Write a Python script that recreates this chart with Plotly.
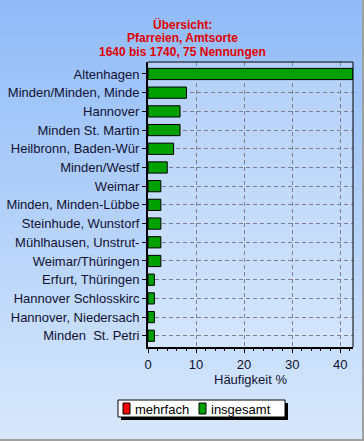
import plotly.graph_objects as go

categories = ["Altenhagen", "Minden/Minden, Minde", "Hannover", "Minden St. Martin",
              "Heilbronn, Baden-Wür", "Minden/Westf", "Weimar", "Minden, Minden-Lübbe",
              "Steinhude, Wunstorf", "Mühlhausen, Unstrut-", "Weimar/Thüringen",
              "Erfurt, Thüringen", "Hannover Schlosskirc", "Hannover, Niedersach",
              "Minden  St. Petri"]
insgesamt = [42.67, 8.0, 6.67, 6.67, 5.33, 4.0, 2.67, 2.67, 2.67, 2.67, 2.67,
             1.33, 1.33, 1.33, 1.33]
mehrfach = [0] * len(categories)
series_names = ["mehrfach", "insgesamt"]
series_colors = ["#ff0000", "#00a000"]
title_lines = ["Übersicht:", "Pfarreien, Amtsorte", "1640 bis 1740, 75 Nennungen"]
x_ticks = [0, 10, 20, 30, 40]

W, H = 364, 441
L, R, T, B = 148, 11, 62, 94
pw, ph = W - L - R, H - T - B

def px_x(x):
    return (x - L) / pw

def px_y(y):
    return (H - y - B) / ph

def lerp(c1, c2, t):
    return "rgb(%d,%d,%d)" % tuple(round(a + (b - a) * t) for a, b in zip(c1, c2))

shapes = []
N = 60
outer_top, outer_bot = (144, 187, 248), (216, 232, 251)
for i in range(N):
    t = (i + 0.5) / N
    shapes.append(dict(type="rect", xref="paper", yref="paper", layer="below",
                       x0=px_x(0), x1=px_x(W),
                       y0=px_y((i + 1) * H / N), y1=px_y(i * H / N) + 0.002,
                       line=dict(width=0), fillcolor=lerp(outer_top, outer_bot, t)))
inner_top, inner_bot = (180, 208, 248), (212, 229, 251)
M = 40
for i in range(M):
    t = (i + 0.5) / M
    shapes.append(dict(type="rect", xref="paper", yref="paper", layer="below",
                       x0=0, x1=1, y0=1 - (i + 1) / M, y1=1 - i / M + 0.002,
                       line=dict(width=0), fillcolor=lerp(inner_top, inner_bot, t)))
# frame top/right thin
shapes.append(dict(type="line", xref="paper", yref="paper", x0=0, x1=1, y0=1, y1=1,
                   line=dict(color="black", width=1)))
shapes.append(dict(type="line", xref="paper", yref="paper", x0=1, x1=1, y0=0, y1=1,
                   line=dict(color="black", width=1)))
# window border
shapes.append(dict(type="line", xref="paper", yref="paper", x0=px_x(W - 1), x1=px_x(W - 1),
                   y0=px_y(H), y1=px_y(0), line=dict(color="#a0a0a0", width=2)))
shapes.append(dict(type="line", xref="paper", yref="paper", x0=px_x(0), x1=px_x(W),
                   y0=px_y(H - 1), y1=px_y(H - 1), line=dict(color="#a0a0a0", width=2)))

font = "Liberation Sans, Arial, sans-serif"
annotations = []
# title lines
for k, line in enumerate(title_lines):
    annotations.append(dict(text="<b>%s</b>" % line, xref="paper", yref="paper",
                            x=px_x(182), y=px_y(24.5 + 13.5 * k), xanchor="center",
                            yanchor="middle", showarrow=False, borderpad=0,
                            font=dict(family=font, size=12, color="#e00000")))

# manual legend box with shadow
lx0, lx1, ly0, ly1 = 118, 285, 400, 417
shapes.append(dict(type="rect", xref="paper", yref="paper", layer="above",
                   x0=px_x(lx0 + 3), x1=px_x(lx1 + 3), y0=px_y(ly1 + 3), y1=px_y(ly0 + 3),
                   line=dict(width=0), fillcolor="black"))
shapes.append(dict(type="rect", xref="paper", yref="paper", layer="above",
                   x0=px_x(lx0), x1=px_x(lx1), y0=px_y(ly1), y1=px_y(ly0),
                   line=dict(color="black", width=1), fillcolor="white"))
sw_x = [123, 199]
for name, col, sx in zip(series_names, series_colors, sw_x):
    shapes.append(dict(type="rect", xref="paper", yref="paper", layer="above",
                       x0=px_x(sx), x1=px_x(sx + 7), y0=px_y(ly1 - 3), y1=px_y(ly0 + 3),
                       line=dict(color="black", width=1), fillcolor=col))
    annotations.append(dict(text=name, xref="paper", yref="paper", x=px_x(sx + 10),
                            y=px_y((ly0 + ly1) / 2 + 0.5), xanchor="left", yanchor="middle",
                            showarrow=False, font=dict(size=13, color="black")))

fig = go.Figure()
for name, col, vals in zip(series_names, series_colors, [mehrfach, insgesamt]):
    fig.add_trace(go.Bar(y=categories, x=vals, orientation="h", name=name,
                         marker=dict(color=col, line=dict(color="black", width=1)),
                         width=0.6, showlegend=False))

fig.update_layout(
    width=W, height=H, margin=dict(l=L, r=R, t=T, b=B, pad=0, autoexpand=False),
    barmode="overlay",
    paper_bgcolor="rgb(200,220,250)", plot_bgcolor="rgba(0,0,0,0)",
    font=dict(family=font, size=13, color="#111133"),
    xaxis=dict(range=[0, 42.67], tickvals=x_ticks, ticks="outside", ticklen=4,
               tickcolor="black", showline=True, linecolor="black", linewidth=2,
               showgrid=True, gridcolor="#7a8090", griddash="4px,3px", gridwidth=1,
               zeroline=False, automargin=False,
               minor=dict(dtick=2, ticks="outside", ticklen=2, tickcolor="black", showgrid=False),
               title=dict(text="Häufigkeit %", standoff=3, font=dict(size=13)),
               tickfont=dict(size=13)),
    yaxis=dict(categoryorder="array", categoryarray=categories,
               range=[14.6, -0.64], ticks="outside", ticklen=4, tickcolor="black",
               showline=True, linecolor="black", linewidth=2, automargin=False,
               showgrid=True, gridcolor="#7a8090", griddash="4px,3px", gridwidth=1,
               tickfont=dict(size=13)),
    shapes=shapes,
    annotations=annotations,
    showlegend=False,
)

fig.write_html("out.html", config={"displayModeBar": False},
               post_script="document.body.style.margin='0';")
